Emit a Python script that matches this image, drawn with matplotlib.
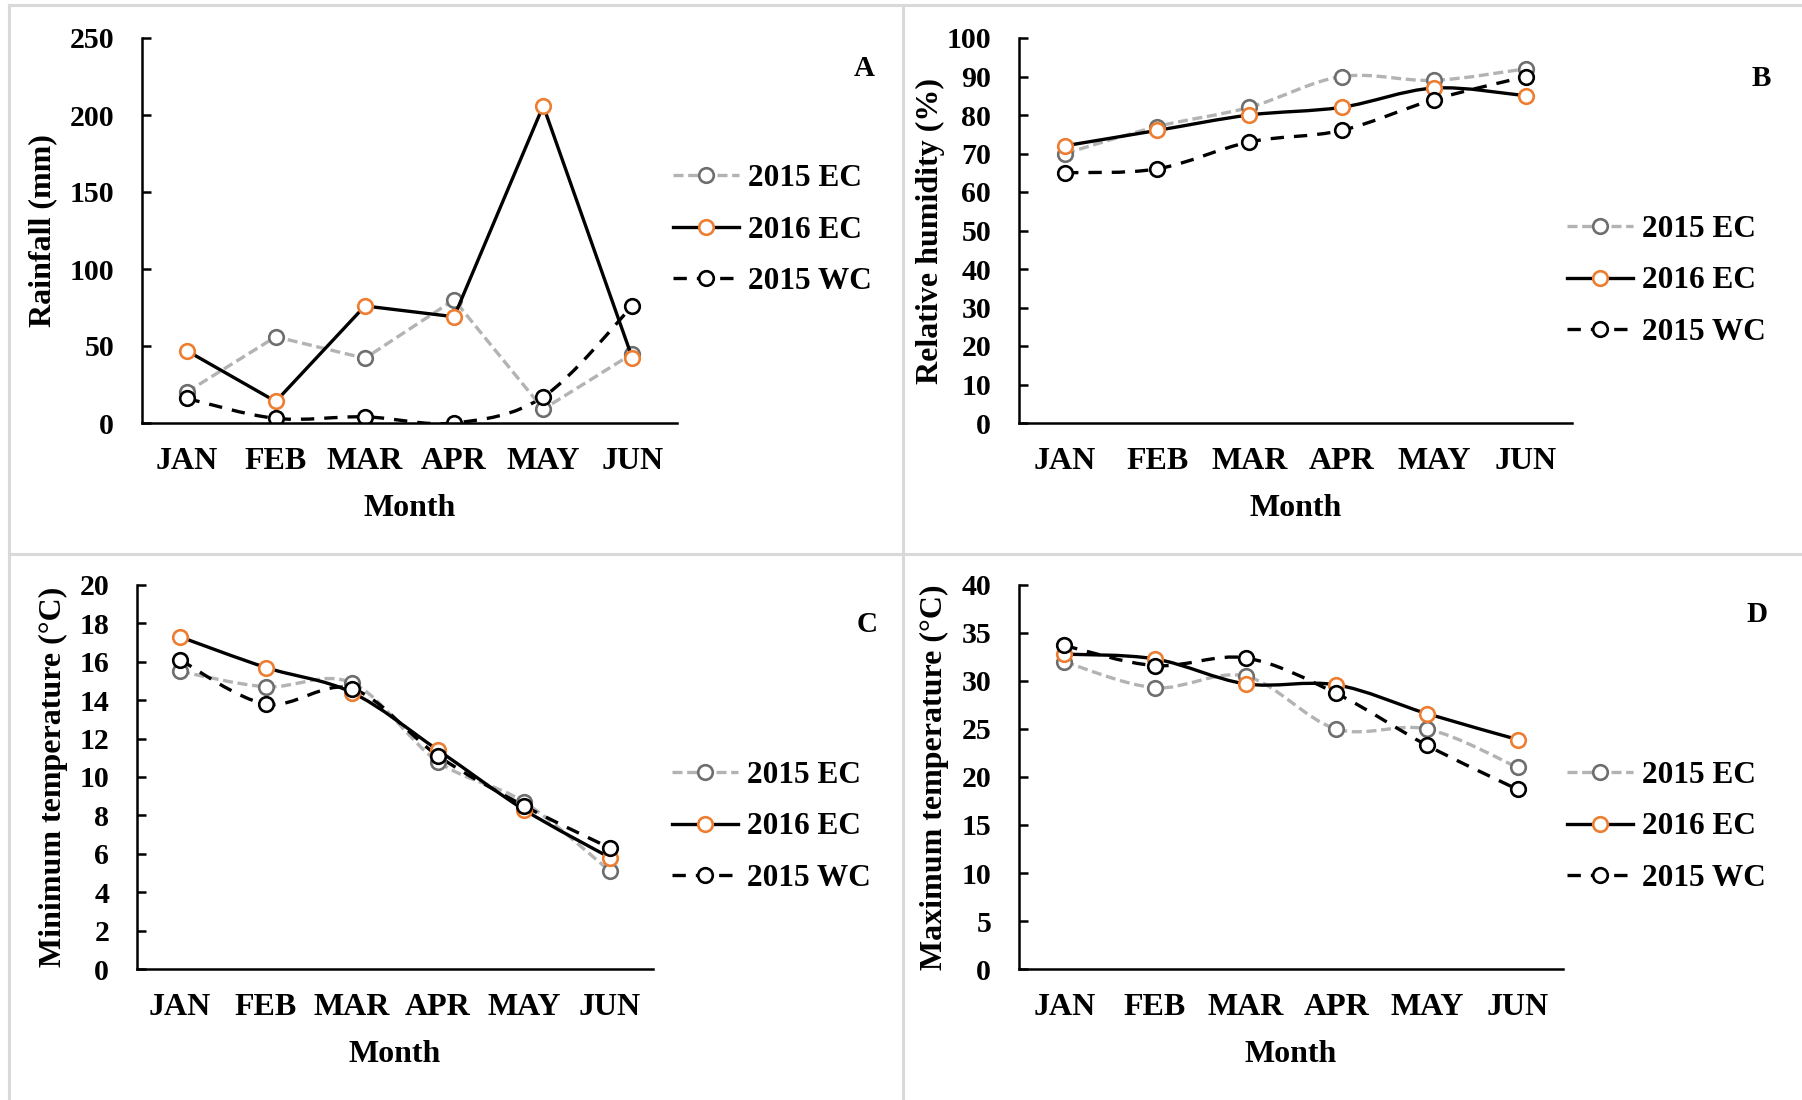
import matplotlib
matplotlib.use("Agg")
import matplotlib.pyplot as plt
from matplotlib.path import Path
from matplotlib.patches import PathPatch
from matplotlib.lines import Line2D

# ---------------------------------------------------------------- data
months = ["JAN", "FEB", "MAR", "APR", "MAY", "JUN"]
series_names = ["2015 EC", "2016 EC", "2015 WC"]

rain_2015_ec = [20, 56, 42, 80, 9, 45]
rain_2016_ec = [47, 14, 76, 69, 206, 42]
rain_2015_wc = [16, 3, 4, 0, 17, 76]

rh_2015_ec = [70, 77, 82, 90, 89, 92]
rh_2016_ec = [72, 76, 80, 82, 87, 85]
rh_2015_wc = [65, 66, 73, 76, 84, 90]

tmin_2015_ec = [15.5, 14.7, 14.9, 10.8, 8.7, 5.1]
tmin_2016_ec = [17.3, 15.7, 14.4, 11.4, 8.3, 5.8]
tmin_2015_wc = [16.1, 13.8, 14.6, 11.1, 8.5, 6.3]

tmax_2015_ec = [32.0, 29.3, 30.5, 25.0, 25.0, 21.0]
tmax_2016_ec = [32.8, 32.3, 29.7, 29.6, 26.6, 23.9]
tmax_2015_wc = [33.7, 31.6, 32.4, 28.7, 23.3, 18.7]

# ---------------------------------------------------------------- style
FONT = "Liberation Serif"
plt.rcParams["font.family"] = FONT
plt.rcParams["font.weight"] = "bold"

W, H = 1802, 1100
fig = plt.figure(figsize=(W / 100, H / 100), dpi=100)
fig.patch.set_facecolor("white")

styles = [
    dict(color="#B3B3B3", mec="#6E6E6E", dashes=(3.0, 1.4)),   # 2015 EC
    dict(color="black", mec="#ED7D31", dashes=None),           # 2016 EC
    dict(color="black", mec="black", dashes=(4.0, 3.0)),        # 2015 WC
]
LW = 2.4
MS = 10.5
MEW = 1.9


def px_axes(left, top, right, bottom):
    return fig.add_axes([left / W, 1 - bottom / H, (right - left) / W, (bottom - top) / H])


def smooth_path(xs, ys):
    """Cubic Bezier through the points (Catmull-Rom style tangents)."""
    n = len(xs)
    verts = [(xs[0], ys[0])]
    codes = [Path.MOVETO]
    for i in range(n - 1):
        a = i - 1 if i > 0 else i
        d = i + 2 if i + 2 < n else i + 1
        c1 = (xs[i] + (xs[i + 1] - xs[a]) / 6.0, ys[i] + (ys[i + 1] - ys[a]) / 6.0)
        c2 = (xs[i + 1] - (xs[d] - xs[i]) / 6.0, ys[i + 1] - (ys[d] - ys[i]) / 6.0)
        verts += [c1, c2, (xs[i + 1], ys[i + 1])]
        codes += [Path.CURVE4] * 3
    return Path(verts, codes)


def draw_panel(box, data, smooth, ymax, ystep, ylabel, ylabel_x, letter, letter_xy,
               legend_xy):
    ax = px_axes(*box)
    xs = list(range(len(months)))
    for vals, st, sm in zip(data, styles, smooth):
        ls = "-" if st["dashes"] is None else (0, st["dashes"])
        if sm:
            patch = PathPatch(smooth_path(xs, vals), fill=False, edgecolor=st["color"],
                              lw=LW, linestyle=ls, capstyle="butt", joinstyle="round")
            ax.add_patch(patch)
        else:
            ax.plot(xs, vals, color=st["color"], lw=LW, linestyle=ls,
                    dash_capstyle="butt", solid_joinstyle="round")
        ax.plot(xs, vals, linestyle="none", marker="o", ms=MS, mew=MEW,
                mec=st["mec"], mfc="white")

    ax.set_xlim(-0.5, len(months) - 0.5)
    ax.set_ylim(0, ymax)
    ax.set_yticks([v * ystep for v in range(int(round(ymax / ystep)) + 1)])
    ax.set_xticks(xs)
    ax.set_xticklabels(months)
    for s in ("top", "right"):
        ax.spines[s].set_visible(False)
    for s in ("left", "bottom"):
        ax.spines[s].set_linewidth(1.8)
    ax.tick_params(axis="y", direction="in", length=6.5, width=1.8, pad=20,
                   labelsize=21.5)
    ax.tick_params(axis="x", length=0, pad=17, labelsize=23)
    for t in ax.get_xticklabels() + ax.get_yticklabels():
        t.set_fontweight("bold")

    ax.set_xlabel("Month", fontsize=23, fontweight="bold", labelpad=13)
    ax.set_ylabel(ylabel, fontsize=23, fontweight="bold", va="center")
    ax.yaxis.set_label_coords((ylabel_x - box[0]) / (box[2] - box[0]), 0.5)

    fig.text(letter_xy[0] / W, 1 - letter_xy[1] / H, letter, fontsize=21,
             fontweight="bold", ha="center", va="center")

    handles = []
    for st in styles:
        ls = "-" if st["dashes"] is None else (0, st["dashes"])
        handles.append(Line2D([], [], color=st["color"], lw=LW, linestyle=ls,
                              marker="o", ms=MS, mew=MEW, mec=st["mec"], mfc="white",
                              dash_capstyle="butt"))
    ax.legend(handles, series_names, loc="center left",
              bbox_to_anchor=(legend_xy[0] / W, 1 - legend_xy[1] / H),
              bbox_transform=fig.transFigure, frameon=False,
              prop={"family": FONT, "weight": "bold", "size": 22.5},
              handlelength=2.1, handletextpad=0.3, labelspacing=0.72,
              borderpad=0, borderaxespad=0)
    return ax


draw_panel((142, 38, 677, 423), [rain_2015_ec, rain_2016_ec, rain_2015_wc],
           [False, False, True], 250, 50, "Rainfall (mm)", 43, "A", (864, 68),
           (673, 230))
draw_panel((1019, 38, 1572, 423), [rh_2015_ec, rh_2016_ec, rh_2015_wc],
           [True, True, True], 100, 10, "Relative humidity (%)", 930, "B", (1761, 78),
           (1567, 281))
draw_panel((137, 585, 653, 969), [tmin_2015_ec, tmin_2016_ec, tmin_2015_wc],
           [True, True, True], 20, 2, "Minimum temperature (°C)", 53, "C", (867, 625),
           (672, 827))
draw_panel((1019, 585, 1563, 969), [tmax_2015_ec, tmax_2016_ec, tmax_2015_wc],
           [True, True, True], 40, 5, "Maximum temperature (°C)", 934, "D", (1757, 615),
           (1567, 827))

# light frame lines separating the four panels
frame_kw = dict(transform=fig.transFigure, color="#D9D9D9", lw=2.2)
fig.add_artist(Line2D([9 / W, 9 / W], [0, 1 - 5 / H], **frame_kw))
fig.add_artist(Line2D([9 / W, 1], [1 - 5 / H, 1 - 5 / H], **frame_kw))
fig.add_artist(Line2D([903 / W, 903 / W], [0, 1 - 5 / H], **frame_kw))
fig.add_artist(Line2D([9 / W, 1], [1 - 554 / H, 1 - 554 / H], **frame_kw))

fig.savefig("out.png", dpi=100, facecolor="white")
